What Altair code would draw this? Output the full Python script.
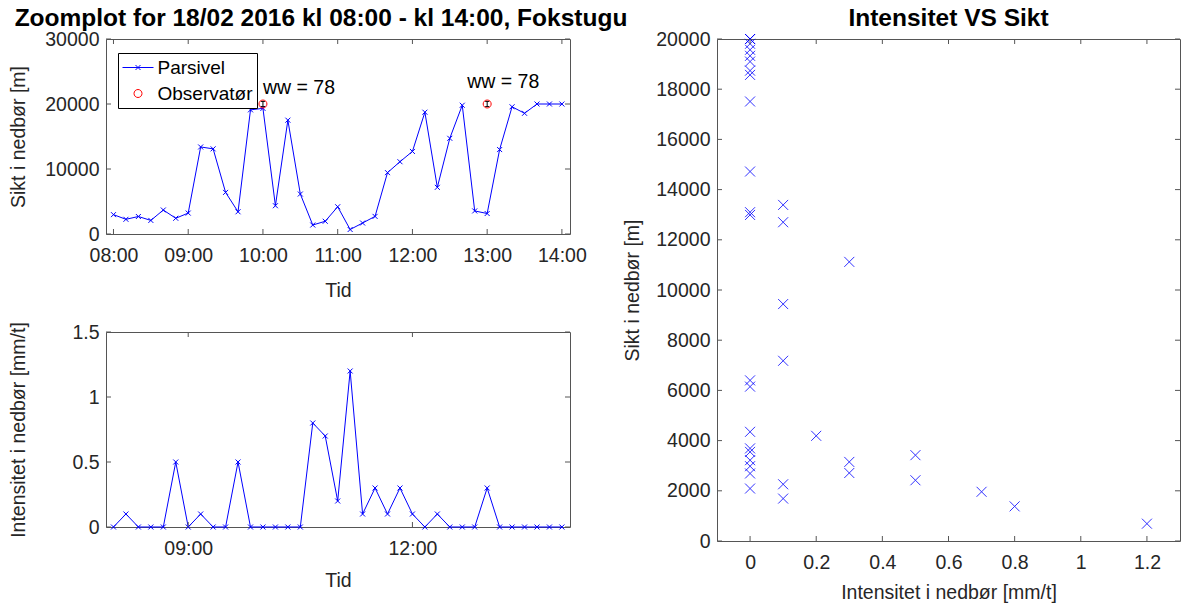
import altair as alt
import pandas as pd

# ---------------- data ----------------
times = ["08:00", "08:10", "08:20", "08:30", "08:40", "08:50",
         "09:00", "09:10", "09:20", "09:30", "09:40", "09:50",
         "10:00", "10:10", "10:20", "10:30", "10:40", "10:50",
         "11:00", "11:10", "11:20", "11:30", "11:40", "11:50",
         "12:00", "12:10", "12:20", "12:30", "12:40", "12:50",
         "13:00", "13:10", "13:20", "13:30", "13:40", "13:50", "14:00"]
sikt = [2980, 2260, 2690, 2090, 3690, 2420,
        3220, 13390, 13100, 6400, 3420, 19100,
        19330, 4350, 17510, 6150, 1380, 1960,
        4190, 690, 1690, 2710, 9440, 11120,
        12700, 18740, 7180, 14720, 19810, 3550,
        3150, 12990, 19570, 18570, 20000, 20000, 20000]
intensitet = [0, 0.1, 0, 0, 0, 0.5,
              0, 0.1, 0, 0, 0.5, 0,
              0, 0, 0, 0, 0.8, 0.7,
              0.2, 1.2, 0.1, 0.3, 0.1, 0.3,
              0.1, 0, 0.1, 0, 0, 0,
              0.3, 0, 0, 0, 0, 0, 0]

obs_times = ["10:00", "13:00"]
obs_sikt = [20000, 20000]
obs_err = [400, 400]

ann_times = ["10:00", "12:44"]
ann_sikt = [22400, 23400]
ann_text = ["ww = 78", "ww = 78"]

series_names = ["Parsivel", "Observatør"]

top_xticks = ["08:00", "09:00", "10:00", "11:00", "12:00", "13:00", "14:00"]
top_yticks = [0, 10000, 20000, 30000]
bot_xticks = ["09:00", "12:00"]
bot_yticks = [0, 0.5, 1, 1.5]
sc_xticks = [0, 0.2, 0.4, 0.6, 0.8, 1.0, 1.2]
sc_yticks = [0, 2000, 4000, 6000, 8000, 10000, 12000, 14000, 16000, 18000, 20000]

# ---------------- styling ----------------
FONT = "Liberation Sans"
BLUE = "#0000ff"
RED = "#ff0000"
FRAME = "#555555"
TXT = "#262626"
FS = 19.5
XPATH = "M-1,-1L1,1M-1,1L1,-1"
CAP = "M-1,0L1,0"
LEG_PARS = "M-1.55,0L1.55,0M-0.25,-0.25L0.25,0.25M-0.25,0.25L0.25,-0.25"
CIRC = "M-0.4,0A0.4,0.4 0 1,0 0.4,0A0.4,0.4 0 1,0 -0.4,0"
TICK = 5

W_L, H_L = 464, 195
W_R, H_R = 463, 502
GAP_H, GAP_V = 147, 98


def dt(hhmm, sec=0):
    h, m = hhmm.split(":")
    return alt.DateTime(year=2016, month=2, date=18, hours=int(h), minutes=int(m), seconds=sec)


def stamp(hhmm):
    return f"2016-02-18T{hhmm}:00"


time_scale = alt.Scale(domain=[dt("07:54"), dt("14:06", 30)])


def xtime(values, title_y):
    return alt.X("t:T", scale=time_scale, title="Tid",
                 axis=alt.Axis(values=[dt(v) for v in values], format="%H:%M",
                               titleY=title_y, titleBaseline="middle"))


def ynum(field, domain, values, title, title_x, fmt):
    return alt.Y(f"{field}:Q", scale=alt.Scale(domain=domain, nice=False, zero=False), title=title,
                 axis=alt.Axis(values=values, format=fmt, titleX=title_x, titleBaseline="middle"))


def tick_layers(xdef, ydef, xfield, yfield, xvals, yvals, W, H):
    dx = pd.DataFrame({xfield: xvals})
    dy = pd.DataFrame({yfield: yvals})
    rule = dict(color=FRAME, strokeWidth=1)
    return [
        alt.Chart(dx).mark_rule(**rule).encode(x=xdef, y=alt.value(H), y2=alt.value(H - TICK)),
        alt.Chart(dx).mark_rule(**rule).encode(x=xdef, y=alt.value(0), y2=alt.value(TICK)),
        alt.Chart(dy).mark_rule(**rule).encode(y=ydef, x=alt.value(0), x2=alt.value(TICK)),
        alt.Chart(dy).mark_rule(**rule).encode(y=ydef, x=alt.value(W), x2=alt.value(W - TICK)),
    ]


ts_df = pd.DataFrame({"t": [stamp(t) for t in times], "sikt": sikt, "int": intensitet})
obs_df = pd.DataFrame({"t": [stamp(t) for t in obs_times], "sikt": obs_sikt,
                       "lo": [v - e for v, e in zip(obs_sikt, obs_err)],
                       "hi": [v + e for v, e in zip(obs_sikt, obs_err)],
                       "serie": ["Observatør"] * len(obs_times)})
# legend layer: observer points plus one (invisible) Parsivel sample so both entries are styled
leg_df = pd.concat([obs_df[["t", "sikt", "serie"]],
                    pd.DataFrame({"t": [stamp(times[-1])], "sikt": [sikt[-1]], "serie": ["Parsivel"]})],
                   ignore_index=True)
ann_df = pd.DataFrame({"t": [stamp(t) for t in ann_times], "sikt": ann_sikt, "txt": ann_text})

# ---------------- top: visibility time series ----------------
xt = xtime(top_xticks, 56)
yt = ynum("sikt", [0, 30000], top_yticks, "Sikt i nedbør [m]", -88, "d")

top_line = alt.Chart(ts_df).mark_line(color=BLUE, strokeWidth=1).encode(x=xt, y=yt)
top_pts = alt.Chart(ts_df).mark_point(shape=XPATH, size=25, color=BLUE, filled=False,
                                      strokeWidth=1, opacity=1).encode(x=xt, y=yt)
err_rule = alt.Chart(obs_df).mark_rule(color="black", strokeWidth=1).encode(
    x=xt, y=alt.Y("lo:Q"), y2="hi:Q")
err_lo = alt.Chart(obs_df).mark_point(shape=CAP, size=16, color="black", filled=False,
                                      strokeWidth=1, opacity=1).encode(x=xt, y=alt.Y("lo:Q"))
err_hi = alt.Chart(obs_df).mark_point(shape=CAP, size=16, color="black", filled=False,
                                      strokeWidth=1, opacity=1).encode(x=xt, y=alt.Y("hi:Q"))
obs_pts = alt.Chart(leg_df).mark_point(filled=False, size=400, strokeWidth=1).encode(
    x=xt, y=yt,
    color=alt.Color("serie:N", scale=alt.Scale(domain=series_names, range=[BLUE, RED]),
                    legend=alt.Legend(title=None, orient="none", legendX=12, legendY=14,
                                      direction="vertical", strokeColor="black", fillColor="white",
                                      padding=4, symbolSize=400, symbolStrokeWidth=1,
                                      symbolOffset=5.5, labelFontSize=19, labelFont=FONT,
                                      labelColor="black", labelOffset=9, rowPadding=5,
                                      cornerRadius=0, symbolOpacity=1)),
    shape=alt.Shape("serie:N", scale=alt.Scale(domain=series_names, range=[LEG_PARS, CIRC])),
    opacity=alt.condition("datum.serie == 'Parsivel'", alt.value(0), alt.value(1)),
)
ann = alt.Chart(ann_df).mark_text(align="left", baseline="middle", fontSize=FS, font=FONT,
                                  color="black").encode(x=xt, y=yt, text="txt:N")

top = alt.layer(top_line, top_pts, err_rule, err_lo, err_hi, obs_pts, ann,
                *tick_layers(xt, yt, "t", "sikt", [stamp(v) for v in top_xticks], top_yticks, W_L, H_L)
                ).properties(width=W_L, height=H_L,
                             title=alt.TitleParams("Zoomplot for 18/02 2016 kl 08:00 - kl 14:00, Fokstugu",
                                                   anchor="middle", dx=-17, dy=6))

# ---------------- bottom: intensity time series ----------------
xb = xtime(bot_xticks, 53)
yb = ynum("int", [0, 1.5], bot_yticks, "Intensitet i nedbør [mm/t]", -88, "~g")
bot_line = alt.Chart(ts_df).mark_line(color=BLUE, strokeWidth=1).encode(x=xb, y=yb)
bot_pts = alt.Chart(ts_df).mark_point(shape=XPATH, size=25, color=BLUE, filled=False,
                                      strokeWidth=1, opacity=1).encode(x=xb, y=yb)
bottom = alt.layer(bot_line, bot_pts,
                   *tick_layers(xb, yb, "t", "int", [stamp(v) for v in bot_xticks], bot_yticks, W_L, H_L)
                   ).properties(width=W_L, height=H_L)

# ---------------- right: scatter ----------------
xs = alt.X("int:Q", scale=alt.Scale(domain=[-0.1, 1.3], nice=False, zero=False),
           title="Intensitet i nedbør [mm/t]",
           axis=alt.Axis(values=sc_xticks, format="~g", titleY=51, titleBaseline="middle"))
ys = ynum("sikt", [0, 20000], sc_yticks, "Sikt i nedbør [m]", -85, "d")
sc_pts = alt.Chart(ts_df).mark_point(shape=XPATH, size=100, color=BLUE, filled=False,
                                     strokeWidth=1, opacity=0.8).encode(x=xs, y=ys)
right = alt.layer(sc_pts,
                  *tick_layers(xs, ys, "int", "sikt", sc_xticks, sc_yticks, W_R, H_R)
                  ).properties(width=W_R, height=H_R,
                               title=alt.TitleParams("Intensitet VS Sikt", anchor="middle", dy=6))

left = alt.vconcat(top, bottom, spacing=GAP_V, bounds="flush")
# with flush bounds the nested column counts as zero width, so its plot width is added to the gap
chart = alt.hconcat(left, right, spacing=W_L + GAP_H, bounds="flush").properties(
    autosize=alt.AutoSizeParams(type="none"),
    padding={"left": 106, "top": 39, "right": 1075, "bottom": 566},
).configure_view(stroke=FRAME, strokeWidth=1).configure_axis(
    labelFont=FONT, titleFont=FONT, labelFontSize=FS, titleFontSize=FS, titleFontWeight="normal",
    labelColor=TXT, titleColor=TXT, ticks=False, domain=False, grid=False, labelPadding=7,
    labelFlush=False, labelOverlap=False,
).configure_axisX(labelPadding=12).configure_title(
    font=FONT, fontSize=24.5, fontWeight="bold", color="black", offset=0)

chart.save("out.html", embed_options={"renderer": "svg", "actions": False})
